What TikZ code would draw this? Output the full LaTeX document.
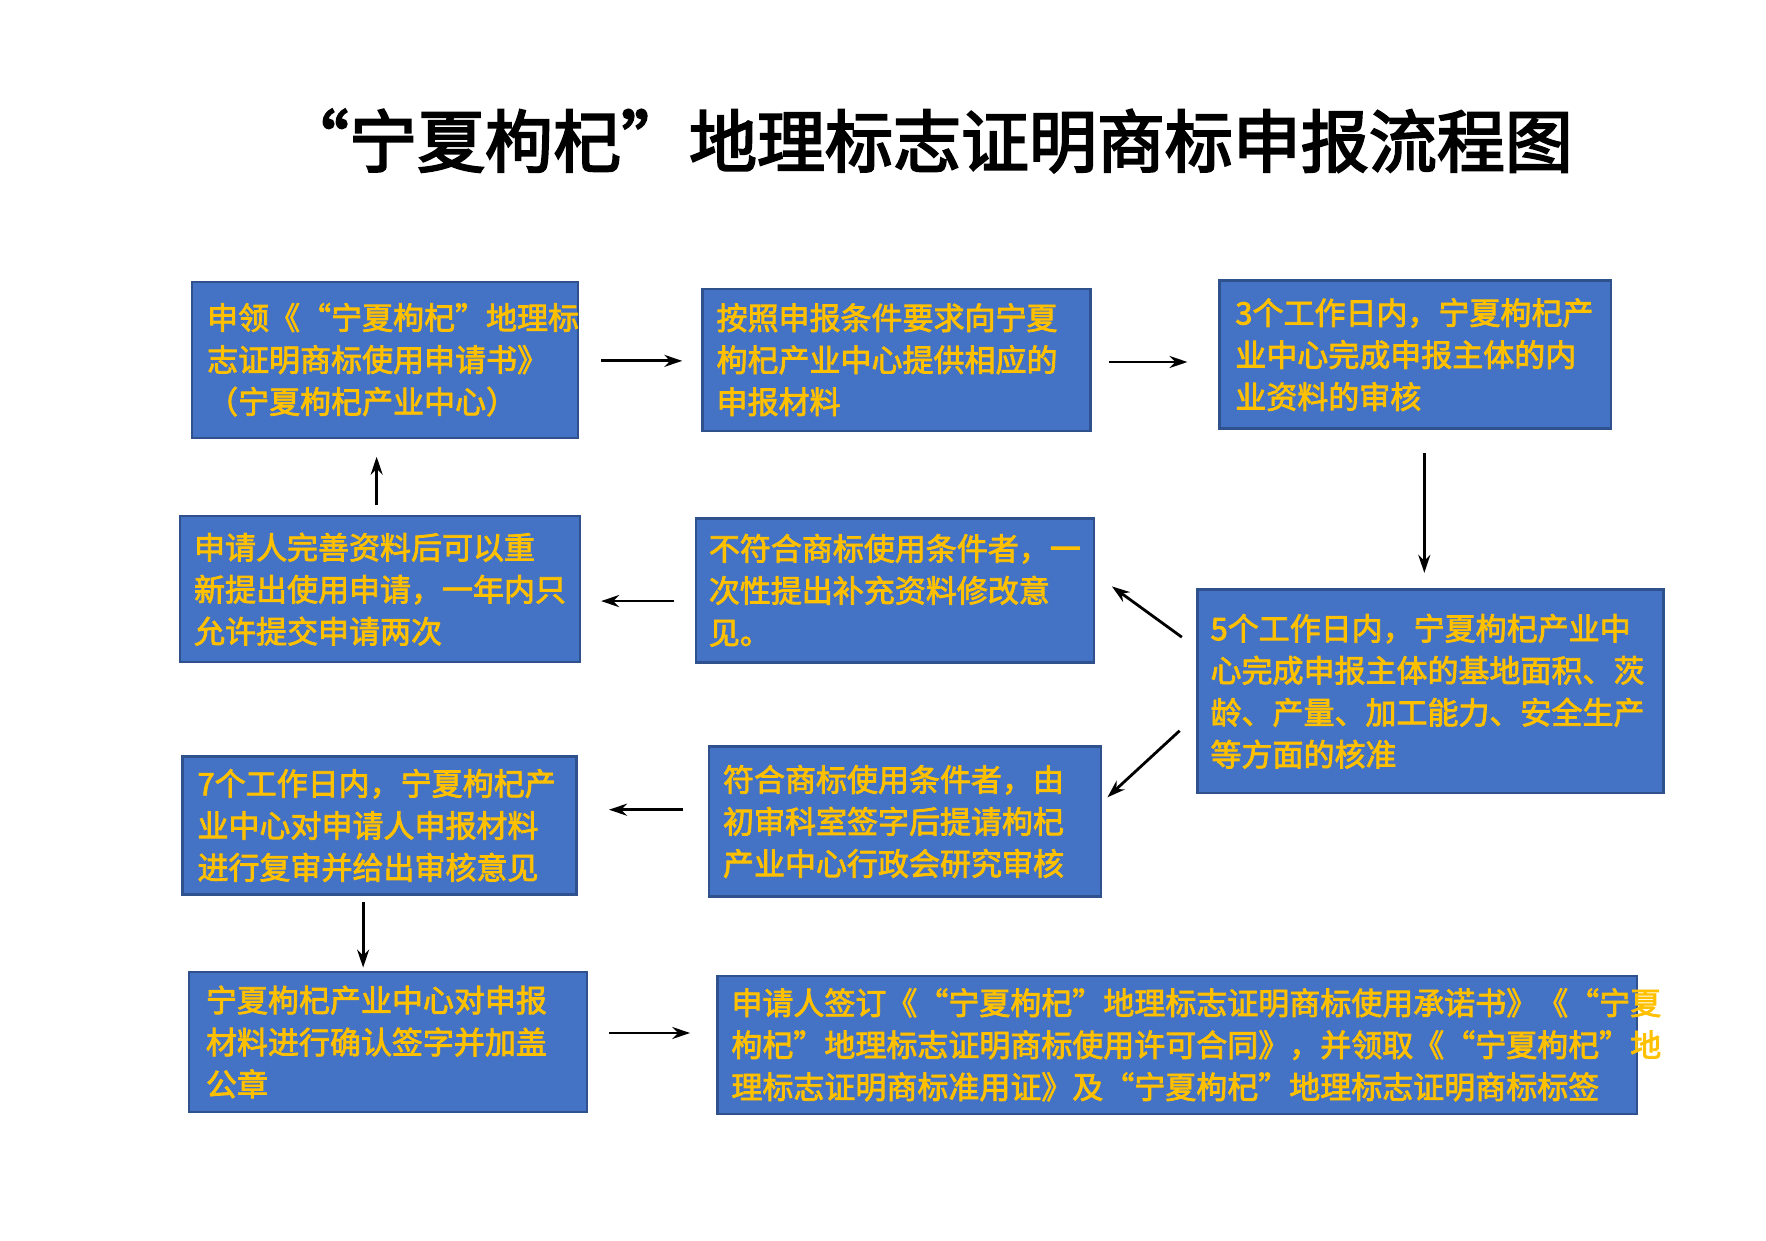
\documentclass[tikz,border=0pt]{standalone}
\usepackage{fontspec}
\usetikzlibrary{arrows.meta}
\newfontfamily\cjk[FakeBold=2.5]{Noto Sans CJK SC}
\newfontfamily\cjkt[FakeBold=3]{Noto Sans CJK SC}
\definecolor{boxfill}{HTML}{4472C4}
\definecolor{boxline}{HTML}{2F528F}
\definecolor{txt}{HTML}{FFC000}
\begin{document}
\begin{tikzpicture}[x=0.564pt,y=-0.564pt,
  bx/.style={draw=boxline,line width=1.2pt,fill=boxfill,text=txt,align=left,inner sep=0pt,
    font=\cjk\fontsize{15.5}{21}\selectfont},
  arr/.style={-{Stealth[length=9pt,width=6pt]},line width=1.4pt}]
\useasboundingbox (0,0) rectangle (1566,1100);
\node[font=\cjkt\fontsize{34}{40}\selectfont] (title) at (822,125) {“宁夏枸杞”地理标志证明商标申报流程图};
\node[bx,minimum width=193pt,minimum height=78pt,text width=178pt] (b1) at (341.5,319) {申领《“宁夏枸杞”地理标\\志证明商标使用申请书》\\（宁夏枸杞产业中心）};
\node[bx,minimum width=194pt,minimum height=71pt,text width=180pt] (b2) at (795,319) {按照申报条件要求向宁夏\\枸杞产业中心提供相应的\\申报材料};
\node[bx,minimum width=196pt,minimum height=74pt,text width=180pt] (b3) at (1255,314.5) {3个工作日内，宁夏枸杞产\\业中心完成申报主体的内\\业资料的审核};
\node[bx,minimum width=200pt,minimum height=73pt,text width=186pt] (b4) at (337,522.5) {申请人完善资料后可以重\\新提出使用申请，一年内只\\允许提交申请两次};
\node[bx,minimum width=199pt,minimum height=72pt,text width=186pt] (b5) at (793.5,523.5) {不符合商标使用条件者，一\\次性提出补充资料修改意\\见。};
\node[bx,minimum width=233pt,minimum height=102pt,text width=220pt] (b6) at (1268.5,613) {5个工作日内，宁夏枸杞产业中\\心完成申报主体的基地面积、茨\\龄、产量、加工能力、安全生产\\等方面的核准};
\node[bx,minimum width=197pt,minimum height=69pt,text width=182pt] (b7) at (336.5,732) {7个工作日内，宁夏枸杞产\\业中心对申请人申报材料\\进行复审并给出审核意见};
\node[bx,minimum width=196pt,minimum height=75pt,text width=182pt] (b8) at (802.5,728.5) {符合商标使用条件者，由\\初审科室签字后提请枸杞\\产业中心行政会研究审核};
\node[bx,minimum width=199pt,minimum height=70pt,text width=182pt] (b9) at (344,924) {宁夏枸杞产业中心对申报\\材料进行确认签字并加盖\\公章};
\node[bx,minimum width=460pt,minimum height=69pt,text width=446pt] (b10) at (1044,926.5) {申请人签订《“宁夏枸杞”地理标志证明商标使用承诺书》《“宁夏\\枸杞”地理标志证明商标使用许可合同》，并领取《“宁夏枸杞”地\\理标志证明商标准用证》及“宁夏枸杞”地理标志证明商标标签};
\coordinate (a1s) at (533,320); \coordinate (a1e) at (605,320);
\coordinate (a2s) at (983,321); \coordinate (a2e) at (1053,321);
\coordinate (a3s) at (1263,402); \coordinate (a3e) at (1263,508);
\coordinate (a4s) at (1048,565); \coordinate (a4e) at (986,520);
\coordinate (a5s) at (598,533); \coordinate (a5e) at (533,533);
\coordinate (a6s) at (334,448); \coordinate (a6e) at (334,405);
\coordinate (a7s) at (1046,648); \coordinate (a7e) at (982,707);
\coordinate (a8s) at (606,718); \coordinate (a8e) at (540,718);
\coordinate (a9s) at (322,800); \coordinate (a9e) at (322,858);
\coordinate (a10s) at (540,916); \coordinate (a10e) at (612,916);
\foreach \i in {1,...,10} \draw[arr] (a\i s) -- (a\i e);
\end{tikzpicture}
\end{document}
